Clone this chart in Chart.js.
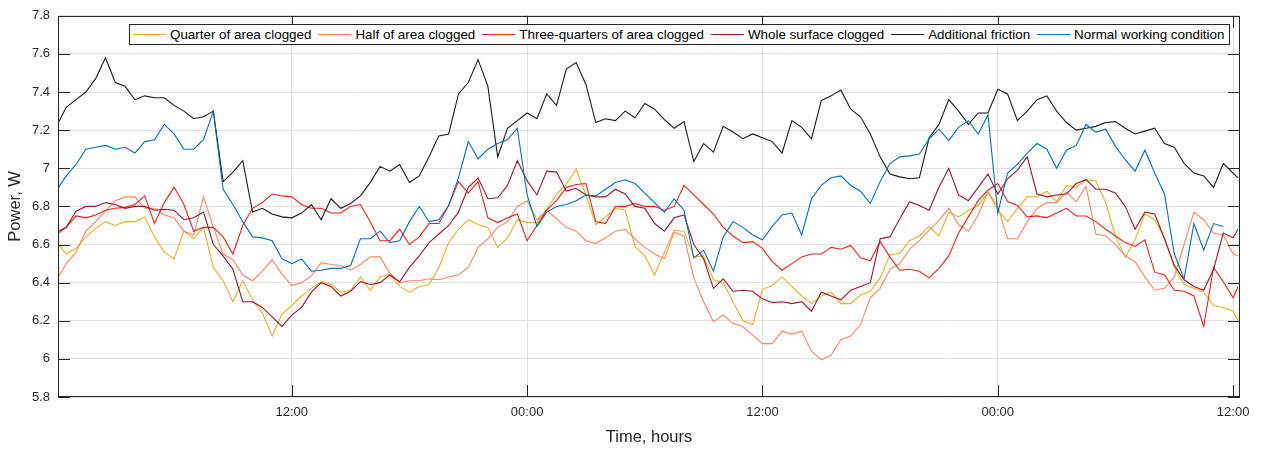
<!DOCTYPE html>
<html>
<head>
<meta charset="utf-8">
<script src="https://cdn.jsdelivr.net/npm/chart.js@4.4.1/dist/chart.umd.min.js"></script>
<style>
    html, body { margin: 0; padding: 0; background: #fff; }
    #wrap { position: relative; width: 1261px; height: 450px; }
    #legend {
        position: absolute; left: 129px; top: 24px; height: 21px;
        box-sizing: border-box; border: 1px solid #262626; background: #fff;
        display: flex; align-items: center; padding: 0 5px 0 3px;
        font: 13.4px "Liberation Sans", Arial, Helvetica, sans-serif; color: #000;
        white-space: nowrap;
    }
    #legend .item { display: flex; align-items: center; margin-right: 7px; }
    #legend .item:last-child { margin-right: 0; }
    #legend .swatch { width: 33px; height: 0; border-top: 1px solid; margin-right: 4px; }
</style>
</head>
<body>
<div id="wrap">
    <canvas id="myChart" width="1261" height="450"></canvas>
    <div id="legend"></div>
</div>
<script>
// time in hours from the first midnight
var hours = [0.1,
    0.5, 1, 1.5, 2, 2.5, 3, 3.5, 4, 4.5, 5,
    5.5, 6, 6.5, 7, 7.5, 8, 8.5, 9, 9.5, 10,
    10.5, 11, 11.5, 12, 12.5, 13, 13.5, 14, 14.5, 15,
    15.5, 16, 16.5, 17, 17.5, 18, 18.5, 19, 19.5, 20,
    20.5, 21, 21.5, 22, 22.5, 23, 23.5, 24, 24.5, 25,
    25.5, 26, 26.5, 27, 27.5, 28, 28.5, 29, 29.5, 30,
    30.5, 31, 31.5, 32, 32.5, 33, 33.5, 34, 34.5, 35,
    35.5, 36, 36.5, 37, 37.5, 38, 38.5, 39, 39.5, 40,
    40.5, 41, 41.5, 42, 42.5, 43, 43.5, 44, 44.5, 45,
    45.5, 46, 46.5, 47, 47.5, 48, 48.5, 49, 49.5, 50,
    50.5, 51, 51.5, 52, 52.5, 53, 53.5, 54, 54.5, 55,
    55.5, 56, 56.5, 57, 57.5, 58, 58.5, 59, 59.5, 60,
    60.25];

var quarterClogged = [6.60,
    6.55, 6.58, 6.64, 6.685, 6.72, 6.70, 6.72, 6.72, 6.745, 6.64,
    6.56, 6.525, 6.67, 6.63, 6.69, 6.48, 6.41, 6.30, 6.41, 6.31,
    6.24, 6.12, 6.235, 6.28, 6.33, 6.37, 6.405, 6.39, 6.35, 6.36,
    6.43, 6.36, 6.43, 6.445, 6.38, 6.35, 6.38, 6.39, 6.48, 6.61,
    6.68, 6.73, 6.705, 6.69, 6.585, 6.635, 6.73, 6.715, 6.715, 6.785,
    6.865, 6.915, 6.995, 6.86, 6.705, 6.745, 6.79, 6.78, 6.59, 6.54,
    6.44, 6.56, 6.675, 6.67, 6.535, 6.54, 6.415, 6.40, 6.30, 6.20,
    6.18, 6.365, 6.385, 6.43, 6.38, 6.33, 6.29, 6.33, 6.35, 6.29,
    6.29, 6.335, 6.355, 6.425, 6.545, 6.555, 6.62, 6.645, 6.695, 6.645,
    6.77, 6.745, 6.78, 6.805, 6.875, 6.78, 6.72, 6.79, 6.85, 6.85,
    6.88, 6.825, 6.91, 6.90, 6.94, 6.935, 6.82, 6.645, 6.535, 6.625,
    6.76, 6.73, 6.635, 6.48, 6.39, 6.37, 6.35, 6.28, 6.27, 6.25,
    6.20];

var halfClogged = [6.43,
    6.50, 6.56, 6.67, 6.72, 6.775, 6.83, 6.85, 6.85, 6.79, 6.79,
    6.755, 6.74, 6.67, 6.65, 6.85, 6.69, 6.55, 6.52, 6.44, 6.41,
    6.46, 6.52, 6.445, 6.385, 6.40, 6.435, 6.505, 6.495, 6.49, 6.465,
    6.495, 6.535, 6.535, 6.45, 6.40, 6.41, 6.41, 6.42, 6.415, 6.43,
    6.44, 6.48, 6.585, 6.63, 6.69, 6.72, 6.80, 6.83, 6.73, 6.78,
    6.735, 6.69, 6.67, 6.62, 6.605, 6.635, 6.67, 6.68, 6.63, 6.585,
    6.55, 6.525, 6.665, 6.645, 6.425, 6.30, 6.195, 6.23, 6.185, 6.17,
    6.125, 6.08, 6.08, 6.145, 6.13, 6.145, 6.04, 5.995, 6.02, 6.10,
    6.12, 6.18, 6.32, 6.37, 6.47, 6.50, 6.575, 6.62, 6.675, 6.725,
    6.79, 6.705, 6.67, 6.755, 6.875, 6.80, 6.63, 6.63, 6.72, 6.79,
    6.82, 6.82, 6.875, 6.825, 6.905, 6.655, 6.645, 6.60, 6.54, 6.51,
    6.43, 6.36, 6.37, 6.43, 6.60, 6.77, 6.73, 6.66, 6.65, 6.55,
    6.54];

var threeQuartersClogged = [6.66,
    6.69, 6.75, 6.74, 6.755, 6.78, 6.79, 6.795, 6.81, 6.855, 6.71,
    6.82, 6.90, 6.81, 6.67, 6.69, 6.69, 6.64, 6.55, 6.70, 6.79,
    6.82, 6.865, 6.855, 6.85, 6.81, 6.79, 6.79, 6.765, 6.765, 6.80,
    6.81, 6.72, 6.62, 6.62, 6.68, 6.60, 6.64, 6.71, 6.71, 6.805,
    6.93, 6.87, 6.93, 6.74, 6.715, 6.74, 6.76, 6.62, 6.70, 6.78,
    6.83, 6.90, 6.915, 6.92, 6.72, 6.71, 6.80, 6.80, 6.815, 6.80,
    6.80, 6.78, 6.80, 6.91, 6.86, 6.81, 6.76, 6.69, 6.645, 6.61,
    6.615, 6.58, 6.51, 6.465, 6.50, 6.535, 6.55, 6.55, 6.585, 6.575,
    6.595, 6.53, 6.515, 6.615, 6.535, 6.465, 6.47, 6.46, 6.425, 6.475,
    6.54, 6.66, 6.745, 6.83, 6.885, 6.92, 6.825, 6.805, 6.745, 6.75,
    6.74, 6.765, 6.79, 6.75, 6.75, 6.72, 6.68, 6.645, 6.61, 6.59,
    6.625, 6.455, 6.44, 6.36, 6.355, 6.33, 6.17, 6.48, 6.405, 6.32,
    6.38];

var wholeSurfaceClogged = [6.67,
    6.69, 6.775, 6.80, 6.80, 6.82, 6.81, 6.79, 6.80, 6.80, 6.78,
    6.785, 6.78, 6.73, 6.74, 6.77, 6.60, 6.54, 6.47, 6.30, 6.30,
    6.27, 6.22, 6.17, 6.23, 6.27, 6.35, 6.40, 6.38, 6.33, 6.355,
    6.405, 6.39, 6.40, 6.44, 6.405, 6.48, 6.54, 6.61, 6.655, 6.70,
    6.77, 6.90, 6.95, 6.84, 6.845, 6.91, 7.04, 6.935, 6.86, 6.985,
    6.98, 6.88, 6.895, 6.86, 6.85, 6.85, 6.89, 6.865, 6.80, 6.79,
    6.71, 6.67, 6.74, 6.755, 6.60, 6.525, 6.37, 6.42, 6.355, 6.36,
    6.355, 6.315, 6.295, 6.30, 6.29, 6.30, 6.25, 6.35, 6.33, 6.31,
    6.36, 6.38, 6.40, 6.63, 6.64, 6.735, 6.825, 6.805, 6.78, 6.90,
    7.00, 6.86, 6.83, 6.90, 6.97, 6.865, 6.945, 6.99, 7.06, 6.865,
    6.85, 6.86, 6.865, 6.92, 6.94, 6.89, 6.89, 6.87, 6.80, 6.68,
    6.77, 6.76, 6.63, 6.49, 6.415, 6.38, 6.36, 6.47, 6.66, 6.635,
    6.68];

var additionalFriction = [7.24,
    7.32, 7.36, 7.40, 7.47, 7.58, 7.45, 7.43, 7.36, 7.38, 7.37,
    7.37, 7.33, 7.30, 7.26, 7.27, 7.30, 6.93, 6.98, 7.04, 6.77,
    6.79, 6.76, 6.745, 6.74, 6.765, 6.81, 6.73, 6.84, 6.79, 6.815,
    6.855, 6.925, 7.01, 6.985, 7.02, 6.925, 6.96, 7.06, 7.17, 7.18,
    7.39, 7.45, 7.57, 7.43, 7.06, 7.21, 7.25, 7.29, 7.26, 7.39,
    7.33, 7.52, 7.555, 7.44, 7.24, 7.26, 7.25, 7.30, 7.265, 7.34,
    7.31, 7.255, 7.21, 7.245, 7.035, 7.13, 7.085, 7.22, 7.19, 7.155,
    7.18, 7.16, 7.14, 7.08, 7.25, 7.215, 7.155, 7.355, 7.38, 7.41,
    7.31, 7.27, 7.18, 7.06, 6.97, 6.955, 6.945, 6.95, 7.16, 7.23,
    7.36, 7.30, 7.23, 7.29, 7.29, 7.415, 7.39, 7.25, 7.30, 7.36,
    7.38, 7.30, 7.24, 7.20, 7.21, 7.22, 7.24, 7.245, 7.21, 7.18,
    7.195, 7.21, 7.13, 7.11, 7.025, 6.975, 6.96, 6.90, 7.025, 6.975,
    6.95];

var normalCondition = [6.90,
    6.96, 7.02, 7.10, 7.11, 7.12, 7.10, 7.11, 7.08, 7.14, 7.15,
    7.23, 7.18, 7.10, 7.10, 7.15, 7.30, 6.89, 6.81, 6.72, 6.64,
    6.635, 6.62, 6.525, 6.50, 6.525, 6.46, 6.465, 6.475, 6.475, 6.49,
    6.63, 6.63, 6.67, 6.61, 6.62, 6.72, 6.80, 6.72, 6.73, 6.805,
    6.95, 7.14, 7.05, 7.10, 7.13, 7.15, 7.21, 6.86, 6.695, 6.77,
    6.80, 6.81, 6.83, 6.86, 6.855, 6.89, 6.925, 6.94, 6.92, 6.87,
    6.82, 6.77, 6.84, 6.78, 6.53, 6.57, 6.46, 6.64, 6.72, 6.69,
    6.65, 6.625, 6.695, 6.755, 6.765, 6.65, 6.84, 6.91, 6.95, 6.96,
    6.91, 6.88, 6.815, 6.93, 7.025, 7.06, 7.065, 7.075, 7.155, 7.205,
    7.145, 7.215, 7.25, 7.18, 7.28, 6.765, 6.975, 7.02, 7.08, 7.13,
    7.10, 7.00, 7.095, 7.12, 7.23, 7.19, 7.205, 7.115, 7.045, 6.985,
    7.095, 6.975, 6.865, 6.55, 6.42, 6.71, 6.57, 6.71, 6.695, null,
    null];

var seriesNames = ['Quarter of area clogged', 'Half of area clogged', 'Three-quarters of area clogged',
    'Whole surface clogged', 'Additional friction', 'Normal working condition'];
var seriesValues = [quarterClogged, halfClogged, threeQuartersClogged,
    wholeSurfaceClogged, additionalFriction, normalCondition];
var seriesColors = ['#EDB120', '#FF8662', '#FF1E1E', '#A2142F', '#1A1A1A', '#0072BD'];

var xTicks = [12, 24, 36, 48, 60];
var xTickLabels = ['12:00', '00:00', '12:00', '00:00', '12:00'];

Chart.defaults.font.family = '"Liberation Sans", Arial, Helvetica, sans-serif';

// html legend inside the plot box
var legendEl = document.getElementById('legend');
seriesNames.forEach(function(name, i) {
    var item = document.createElement('div');
    item.className = 'item';
    var sw = document.createElement('span');
    sw.className = 'swatch';
    sw.style.borderTopColor = seriesColors[i];
    var txt = document.createElement('span');
    txt.textContent = name;
    item.appendChild(sw);
    item.appendChild(txt);
    legendEl.appendChild(item);
});

// box around the axes with inward ticks
var boxPlugin = {
    id: 'axesBox',
    afterDatasetsDraw: function(chart) {
        var ctx = chart.ctx, a = chart.chartArea;
        var x = chart.scales.x, y = chart.scales.y;
        ctx.save();
        ctx.strokeStyle = '#262626';
        ctx.lineWidth = 1;
        ctx.strokeRect(Math.round(a.left) + 0.5, Math.round(a.top) + 0.5,
            Math.round(a.right - a.left) - 1, Math.round(a.bottom - a.top) - 1);
        ctx.beginPath();
        x.ticks.forEach(function(t) {
            var px = Math.round(x.getPixelForValue(t.value)) + 0.5;
            ctx.moveTo(px, a.bottom); ctx.lineTo(px, a.bottom - 12);
            ctx.moveTo(px, a.top); ctx.lineTo(px, a.top + 12);
        });
        y.ticks.forEach(function(t) {
            var py = Math.round(y.getPixelForValue(t.value)) + 0.5;
            ctx.moveTo(a.left, py); ctx.lineTo(a.left + 12, py);
            ctx.moveTo(a.right, py); ctx.lineTo(a.right - 12, py);
        });
        ctx.stroke();
        ctx.restore();
    }
};

var datasets = seriesValues.map(function(vals, i) {
    return {
        label: seriesNames[i],
        data: hours.map(function(h, k) { return {x: h, y: vals[k]}; }),
        borderColor: seriesColors[i],
        backgroundColor: seriesColors[i],
        borderWidth: 1.1,
        pointRadius: 0,
        tension: 0,
        fill: false,
        order: seriesValues.length - i
    };
});

var ctx = document.getElementById('myChart').getContext('2d');
var chart = new Chart(ctx, {
    type: 'line',
    data: { datasets: datasets },
    options: {
        responsive: false,
        animation: false,
        devicePixelRatio: 1,
        layout: { padding: { left: 0, right: 21, top: 8, bottom: 0 } },
        plugins: {
            legend: { display: false },
            tooltip: { enabled: false }
        },
        scales: {
            x: {
                type: 'linear',
                min: 0.08,
                max: 60.35,
                afterBuildTicks: function(scale) {
                    scale.ticks = xTicks.map(function(v) { return {value: v}; });
                },
                afterFit: function(scale) { scale.height = 53; },
                ticks: {
                    autoSkip: false,
                    maxRotation: 0,
                    padding: 8,
                    color: '#262626',
                    font: { size: 13 },
                    callback: function(v, i) { return xTickLabels[i]; }
                },
                grid: { color: '#e2e2e2', drawTicks: false },
                border: { display: false },
                title: {
                    display: true, text: 'Time, hours', color: '#262626',
                    font: { size: 16.5 }, padding: { top: 0, bottom: 3 }
                }
            },
            y: {
                min: 5.8,
                max: 7.8,
                afterFit: function(scale) { scale.width = 58; },
                ticks: {
                    stepSize: 0.2,
                    padding: 8,
                    color: '#262626',
                    font: { size: 13 },
                    callback: function(v) { return String(Math.round(v * 10) / 10); }
                },
                grid: { color: '#e2e2e2', drawTicks: false },
                border: { display: false },
                title: {
                    display: true, text: 'Power, W', color: '#262626',
                    font: { size: 16.5 }, padding: { top: 6, bottom: 0 }
                }
            }
        }
    },
    plugins: [boxPlugin]
});
</script>
</body>
</html>
